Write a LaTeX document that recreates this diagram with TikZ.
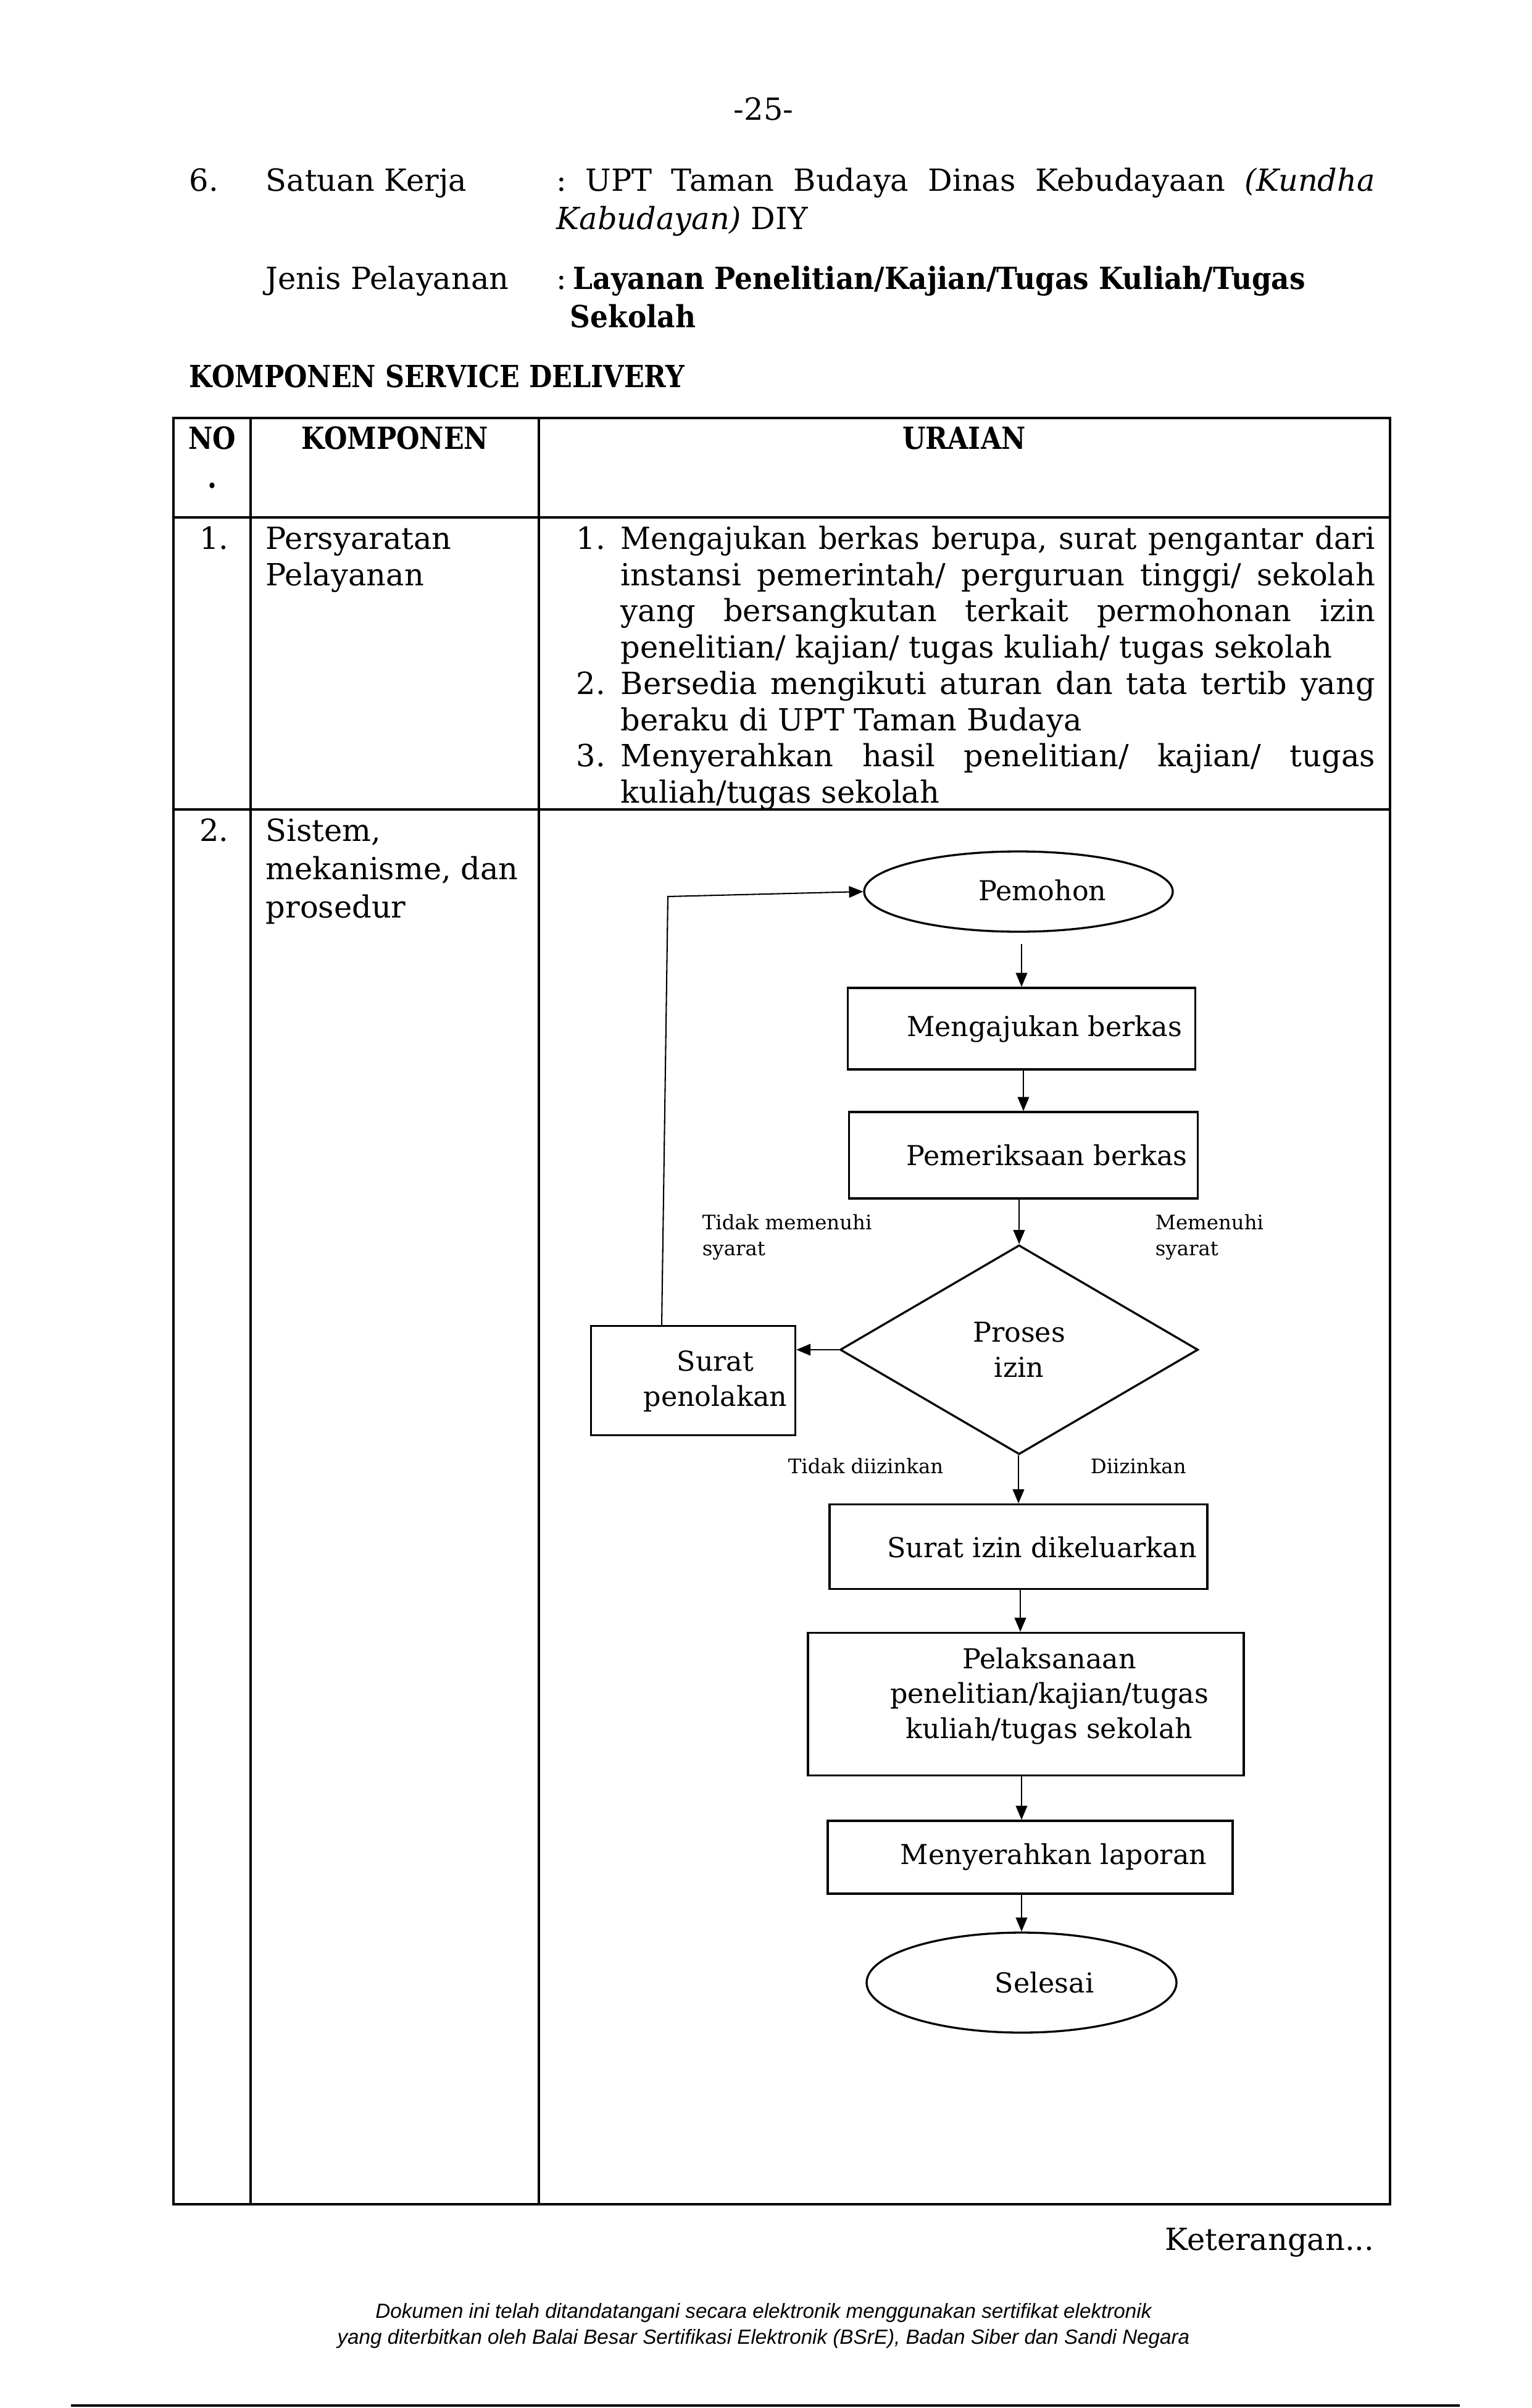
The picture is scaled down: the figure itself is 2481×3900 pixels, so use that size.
\documentclass[tikz,border=0pt]{standalone}
\usepackage{fontspec}
\setmainfont{DejaVu Serif}
\newfontfamily\footfont{Liberation Sans}
\newfontfamily\bcondA{DejaVu Serif}[FakeStretch=0.92]
\newfontfamily\bcondB{DejaVu Serif}[FakeStretch=0.87]
\newfontfamily\rcond{DejaVu Serif}[FakeStretch=0.97]
\usetikzlibrary{shapes.geometric,arrows.meta,calc}
\newcommand{\bodyfont}{\fontsize{11.9}{14.1}\selectfont}
\newcommand{\flowfont}{\fontsize{10.7}{13.7}\selectfont}
\newcommand{\labfont}{\fontsize{7.8}{10}\selectfont}
\newcommand{\jline}[2]{\makebox[#1][s]{#2}}
\begin{document}
\begin{tikzpicture}[x=0.24bp,y=-0.24bp,
  txt/.style={inner sep=0pt, font=\bodyfont},
  btxt/.style={inner sep=0pt, font=\bodyfont\bcondA\bfseries},
  ctxt/.style={inner sep=0pt, font=\bodyfont\bcondB\bfseries},
  tbl/.style={line width=0.8pt},
  fbox/.style={draw, line width=0.8pt, inner sep=0pt},
  ell/.style={draw, ellipse, line width=0.8pt, inner sep=0pt},
  ftxt/.style={inner sep=0pt, font=\flowfont, align=center},
  lab/.style={inner sep=0pt, font=\labfont, align=left, anchor=west},
  foot/.style={inner sep=0pt, anchor=base, font=\footfont\itshape\fontsize{8}{9}\selectfont},
  conn/.style={line width=0.5pt, -{Triangle[length=5.5pt,width=4.5pt]}}]
\useasboundingbox (0,0) rectangle (2481,3900);

% ---------- page header ----------
\node[txt, anchor=base] (pg) at (1237,195) {-25-};
\node[txt, anchor=base west] (n6) at (306,310) {6.};
\node[txt, anchor=base west] (sk) at (430,310) {Satuan Kerja};
\node[txt, anchor=base west] (c1) at (901,310) {:};
\node[txt, anchor=base west] (sk1) at (948,310) {\jline{306.96bp}{UPT Taman Budaya Dinas Kebudayaan \textit{(Kundha}}};
\node[txt, anchor=base west] (sk2) at (901,372) {\textit{Kabudayan)} DIY};
\node[txt, anchor=base west] (jp) at (430,469) {Jenis Pelayanan};
\node[txt, anchor=base west] (c2) at (901,469) {:};
\node[btxt, anchor=base west] (jp1) at (928,469) {Layanan Penelitian/Kajian/Tugas Kuliah/Tugas};
\node[btxt, anchor=base west] (jp2) at (923,531) {Sekolah};
\node[ctxt, anchor=base west] (ksd) at (306,628) {KOMPONEN SERVICE DELIVERY};

% ---------- table ----------
\draw[tbl] (281,677) rectangle (2252,3570);
\draw[tbl] (406,677) -- (406,3570);
\draw[tbl] (873,677) -- (873,3570);
\draw[tbl] (281,838) -- (2252,838);
\draw[tbl] (281,1311) -- (2252,1311);

\node[ctxt, anchor=base] (hno) at (344,728) {NO};
\node[ctxt, anchor=base] (hdot) at (344,790) {.};
\node[ctxt, anchor=base] (hkomp) at (640,728) {KOMPONEN};
\node[ctxt, anchor=base] (hur) at (1562,728) {URAIAN};

% row 1
\node[txt, anchor=base] (r1no) at (347,889) {1.};
\node[txt, anchor=base west] (r1a) at (430,889) {Persyaratan};
\node[txt, anchor=base west] (r1b) at (430,948) {Pelayanan};
\node[txt, anchor=base west] (l1n) at (933,889) {1.};
\node[txt, anchor=base west] (l1a) at (1005,889) {\rcond\jline{293.28bp}{Mengajukan berkas berupa, surat pengantar dari}};
\node[txt, anchor=base west] (l1b) at (1005,948) {\jline{293.28bp}{instansi pemerintah/ perguruan tinggi/ sekolah}};
\node[txt, anchor=base west] (l1c) at (1005,1006) {\jline{293.28bp}{yang bersangkutan terkait permohonan izin}};
\node[txt, anchor=base west] (l1d) at (1005,1065) {penelitian/ kajian/ tugas kuliah/ tugas sekolah};
\node[txt, anchor=base west] (l2n) at (933,1124) {2.};
\node[txt, anchor=base west] (l2a) at (1005,1124) {\jline{293.28bp}{Bersedia mengikuti aturan dan tata tertib yang}};
\node[txt, anchor=base west] (l2b) at (1005,1183) {beraku di UPT Taman Budaya};
\node[txt, anchor=base west] (l3n) at (933,1241) {3.};
\node[txt, anchor=base west] (l3a) at (1005,1241) {\jline{293.28bp}{Menyerahkan hasil penelitian/ kajian/ tugas}};
\node[txt, anchor=base west] (l3b) at (1005,1300) {kuliah/tugas sekolah};

% row 2
\node[txt, anchor=base] (r2no) at (347,1362) {2.};
\node[txt, anchor=base west] (r2a) at (430,1362) {Sistem,};
\node[txt, anchor=base west] (r2b) at (430,1424) {mekanisme, dan};
\node[txt, anchor=base west] (r2c) at (430,1486) {prosedur};

% ---------- flowchart ----------
\node[ell, minimum width=500*0.24bp, minimum height=130*0.24bp] (pemohon) at (1650,1444) {};
\node[ftxt] (tpemohon) at (1689,1442) {Pemohon};

\node[fbox, minimum width=563*0.24bp, minimum height=132*0.24bp] (aju) at (1655,1666) {};
\node[ftxt] (taju) at (1692,1667) {Mengajukan berkas};

\node[fbox, minimum width=565*0.24bp, minimum height=140*0.24bp] (periksa) at (1658,1871) {};
\node[ftxt] (tperiksa) at (1696,1871) {Pemeriksaan berkas};

\node[draw, diamond, line width=0.8pt, inner sep=0pt, minimum width=580*0.24bp, minimum height=339*0.24bp] (izin) at (1651,2186) {};
\node[ftxt] (tizin) at (1651,2186) {Proses\\izin};

\node[fbox, minimum width=331*0.24bp, minimum height=177*0.24bp] (tolak) at (1123,2236) {};
\node[ftxt] (ttolak) at (1159,2237) {Surat\\penolakan};

\node[fbox, minimum width=612*0.24bp, minimum height=137*0.24bp] (keluar) at (1650,2505) {};
\node[ftxt] (tkeluar) at (1688,2506) {Surat izin dikeluarkan};

\node[fbox, minimum width=706*0.24bp, minimum height=231*0.24bp] (laksana) at (1662,2760) {};
\node[ftxt] (tlaksana) at (1700,2747) {Pelaksanaan\\penelitian/kajian/tugas\\kuliah/tugas sekolah};

\node[fbox, minimum width=656*0.24bp, minimum height=118*0.24bp] (lapor) at (1669,3008) {};
\node[ftxt] (tlapor) at (1707,3008) {Menyerahkan laporan};

\node[ell, minimum width=502*0.24bp, minimum height=162*0.24bp] (selesai) at (1655,3211) {};
\node[ftxt] (tselesai) at (1692,3211) {Selesai};

% labels
\node[lab] (lb1) at (1137,2004) {Tidak memenuhi\\syarat};
\node[lab] (lb2) at (1871,2004) {Memenuhi\\syarat};
\node[lab] (lb3) at (1276,2374) {Tidak diizinkan};
\node[lab] (lb4) at (1766,2374) {Diizinkan};

% connectors
\coordinate (bendtop) at (1082,1452);
\draw[conn] ($(pemohon.south)+(5,18)$) -- (aju.north -| 1655,0);
\draw[conn] (periksa.north |- aju.south) -- (periksa.north);
\draw[conn] (izin.north |- periksa.south) -- (izin.north);
\draw[conn] (izin.west) -- (izin.west -| tolak.east);
\draw[conn] ($(tolak.north)+(-51,0)$) -- (bendtop) -- (pemohon.west);
\draw[conn] (keluar.north |- izin.south) -- (keluar.north);
\draw[conn] (keluar.south -| 1653,0) -- (laksana.north -| 1653,0);
\draw[conn] (laksana.south -| 1655,0) -- (lapor.north -| 1655,0);
\draw[conn] (lapor.south -| 1655,0) -- (selesai.north);

% ---------- footer ----------
\node[txt, anchor=base east] (ket) at (2227,3644) {Keterangan...};
\node[foot] (f1) at (1237,3754) {Dokumen ini telah ditandatangani secara elektronik menggunakan sertifikat elektronik};
\node[foot] (f2) at (1237,3796) {yang diterbitkan oleh Balai Besar Sertifikasi Elektronik (BSrE), Badan Siber dan Sandi Negara};
\draw[line width=0.9pt] (115,3896) -- (2365,3896);
\end{tikzpicture}
\end{document}
